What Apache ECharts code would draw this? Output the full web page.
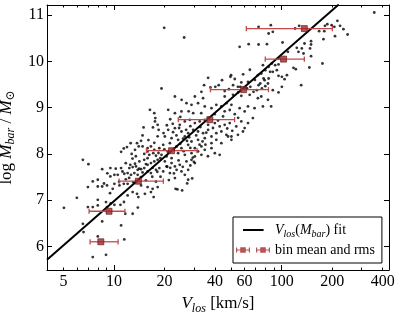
<!DOCTYPE html>
<html><head><meta charset="utf-8">
<script src="https://cdn.jsdelivr.net/npm/echarts@6/dist/echarts.min.js"></script>
<style>html,body{margin:0;padding:0;background:#fff}#c{width:399px;height:314px}</style>
</head><body><div id="c"></div>
<script>
// x axis is log10(V_los [km/s]); y axis is log10(M_bar / M_sun)
const xTickLabels = [5, 10, 20, 40, 60, 100, 200, 400];
const xMajorTicks = [10, 100];
const xMinorTicks = [5, 6, 7, 8, 9, 20, 30, 40, 50, 60, 70, 80, 90, 200, 300, 400];
const yTicks = [6, 7, 8, 9, 10, 11];

// galaxies: [log10 V_los, log10 M_bar]
const galaxies = [
[1.363,9.242],[1.403,9.170],[1.482,9.242],[1.531,9.206],[1.660,9.242],[1.710,9.278],[1.759,9.256],[1.809,9.278],[1.858,9.206],[1.878,9.242],[1.918,9.170],[1.937,9.026],[1.888,9.026],[1.838,8.990],[1.799,9.026],[1.779,8.918],[1.749,8.990],[1.700,9.062],[1.670,9.098],[1.640,9.026],[1.610,9.062],[1.581,8.990],[1.541,9.026],[1.501,9.098],[1.462,9.062],[1.432,9.098],[1.472,8.882],[1.402,8.918],[1.363,8.882],[1.323,8.954],
[1.392,8.630],[1.422,8.702],[1.452,8.738],[1.482,8.666],[1.511,8.702],[1.541,8.738],[1.561,8.630],[1.601,8.666],[1.630,8.594],[1.660,8.630],[1.690,8.666],[1.729,8.594],[1.759,8.702],[1.779,8.558],[1.799,8.666],[1.828,8.774],
[1.323,8.521],[1.363,8.557],[1.402,8.485],[1.442,8.449],[1.472,8.521],[1.501,8.485],[1.531,8.449],[1.561,8.521],[1.581,8.377],[1.610,8.449],[1.640,8.485],[1.670,8.413],[1.700,8.377],[1.739,8.413],[1.769,8.485],
[1.303,8.377],[1.343,8.341],[1.382,8.305],[1.422,8.377],[1.462,8.269],[1.501,8.305],[1.541,8.341],[1.581,8.233],[1.610,8.305],[1.640,8.233],[1.680,8.377],[1.700,8.305],
[1.293,8.197],[1.333,8.233],[1.373,8.161],[1.402,8.125],[1.442,8.197],[1.482,8.125],[1.521,8.161],[1.541,8.089],[1.581,8.125],[1.601,8.017],[1.630,7.981],
[1.283,7.981],[1.313,7.945],[1.343,7.909],[1.382,8.017],[1.422,7.981],[1.462,8.017],[1.482,7.945],[1.501,8.053],[1.521,7.981],
[1.303,7.837],[1.343,7.801],[1.363,7.729],[1.392,7.765],[1.432,7.837],[1.462,7.873],[1.482,7.801],[1.442,7.657],[1.402,7.621],[1.313,7.729],[1.293,7.621],[1.333,7.585],[1.373,7.657],[1.422,7.549],[1.442,7.441],[1.363,7.477],
[1.466,7.470],[1.327,7.434],[1.317,7.722],[1.357,7.578],[1.476,7.830],
[1.295,8.450],[1.315,8.620],[1.335,8.750],[1.352,8.470],[1.372,8.400],[1.388,8.560],[1.412,8.330],[1.430,8.520],[1.448,8.360],[1.455,8.600],[1.490,8.400],[1.515,8.580],[1.528,8.270],[1.550,8.460],[1.565,8.780],[1.590,8.560],[1.620,8.720],[1.650,8.810],[1.675,8.550],[1.705,8.500],[1.720,8.860],[1.690,8.950],[1.740,8.780],[1.300,8.100],[1.320,8.050],[1.355,8.090],[1.395,8.220],[1.415,8.060],[1.435,8.280],[1.455,8.130],[1.470,7.920],[1.510,8.200],[1.545,8.200],[1.560,7.950],[1.335,7.700],[1.385,7.860],[1.410,7.720],[1.455,7.750],[1.350,8.650],[1.395,8.800],[1.445,8.920],[1.520,8.880],[1.600,8.860],[1.660,8.920],
[1.862,10.748],[1.935,10.784],[1.922,10.604],[1.947,10.640],[1.803,10.373],[1.749,10.316],[1.862,10.366],[1.912,10.373],[1.961,9.919],[1.941,9.955],[1.922,9.883],[1.931,9.775],[1.902,9.811],[1.947,9.775],[1.922,9.631],[1.892,9.631],[1.872,9.523],[1.862,9.487],[1.882,9.415],[1.902,9.465],[1.852,9.379],[1.832,9.343],[1.813,9.451],[1.793,9.415],[1.753,9.451],[1.698,9.703],[1.694,9.667],[1.644,9.595],[1.624,9.487],[1.604,9.451],[1.575,9.436],[1.947,9.379],
[1.878,9.739],[1.858,9.703],[1.898,9.595],[1.918,9.523],[1.799,9.559],[1.759,9.545],[1.739,9.451],[1.710,9.487],[1.888,9.919],[1.779,9.429],[1.537,9.487],[1.521,9.343],[1.561,9.645],
[1.660,9.360],[1.720,9.620],[1.770,9.720],[1.810,9.820],[1.840,9.600],[1.685,9.400],[1.740,9.330],
[1.299,10.726],[1.418,10.517],[1.283,9.415],
[2.552,11.058],[2.104,10.769],[2.080,10.712],[2.223,10.654],[2.254,10.654],[2.258,10.769],[2.272,10.805],[2.298,10.784],[2.314,10.748],[2.332,10.877],[2.348,10.769],[2.368,10.697],[2.393,10.582],[2.318,10.546],[2.249,10.481],[2.005,10.409],[2.090,10.294],[2.120,10.280],[2.169,10.280],[2.175,10.366],[2.175,10.438],[2.136,10.387],[2.175,10.114],[2.243,9.955],[2.165,9.869],[2.037,10.207],[1.981,10.063],[1.981,9.934],[1.971,9.811],[2.031,9.703],[2.070,9.861],[2.084,9.833],[2.001,9.667],[2.017,9.617],[1.981,9.689],[2.001,9.451],[2.116,9.487],[1.981,9.329],[2.130,10.171],[2.100,10.207],
[1.214,8.954],[1.240,8.882],[1.246,8.774],[1.244,8.702],[1.260,8.630],[1.176,8.572],[1.232,8.572],[1.266,8.521],[1.161,8.284],[1.137,8.233],[1.099,8.233],[1.077,8.147],[1.147,8.161],[1.125,8.089],[1.058,8.118],[1.042,8.046],[1.170,8.161],[1.200,8.125],[1.220,8.161],[1.240,8.089],[1.270,8.125],[1.200,8.053],[1.234,8.017],[0.814,7.873],[0.847,7.779],[0.929,7.671],[0.978,7.693],[1.042,7.693],[1.097,7.765],[1.125,7.787],[1.151,7.837],[1.180,7.873],[1.200,7.909],[1.091,7.693],[1.111,7.715],[1.131,7.729],[1.141,7.657],[1.161,7.671],[1.180,7.693],[1.200,7.765],[1.220,7.801],[1.240,7.837],[1.260,7.873],[1.276,7.909],[1.002,7.549],[1.022,7.549],[0.978,7.513],[1.061,7.571],[1.081,7.585],[1.101,7.549],[1.121,7.585],[1.141,7.549],[1.170,7.599],[1.200,7.621],[1.220,7.585],[1.250,7.657],[1.270,7.693],[0.903,7.441],[0.873,7.405],[1.228,7.506],[1.258,7.614],[1.277,7.506],
[1.010,7.680],[1.050,7.620],[1.070,7.800],[1.090,7.480],[1.110,7.900],[1.130,7.950],[1.150,7.680],[1.160,7.500],[1.190,7.780],[1.210,7.980],[1.230,7.700],[1.250,7.960],[1.265,8.020],[1.180,8.000],[1.105,8.000],[1.070,7.450],[1.030,7.400],[1.190,7.430],[1.240,8.240],[1.260,8.380],[1.205,8.300],[1.170,8.400],[0.960,7.580],[0.940,7.360],[1.130,7.400],[1.250,7.400],
[0.701,6.835],[0.778,7.051],[0.814,6.489],[0.818,6.309],[0.844,6.850],[0.873,6.850],[0.903,7.008],[0.903,6.886],[0.929,6.540],[0.952,6.958],[0.958,6.850],[0.903,6.216],[0.952,5.819],[0.873,5.769],[0.844,7.282],[0.903,7.296],[0.929,7.296],[0.958,7.318],[0.976,7.152],[0.992,7.246],[1.002,7.354],[1.032,7.318],[1.058,7.354],[1.081,7.354],[1.002,6.900],[1.038,6.900],[1.067,6.706],[1.111,6.706],[1.042,6.453],[1.061,6.151],[1.200,7.282],[1.230,7.246],[1.260,7.282],[1.184,7.138],[1.220,7.174],[1.236,7.066],[1.111,7.174],[1.137,7.138],[1.145,7.066],[1.161,7.318],[1.081,7.102],[1.115,7.385],[1.142,6.840],[0.980,6.930],[1.059,6.960],
[1.367,7.246],[1.378,7.232],[1.406,7.210],[1.436,7.362]
];

// bin means and rms (log10 V_los)
const binLogV   = [0.921, 0.970, 1.145, 1.343, 1.571, 1.773, 2.011, 2.135];
const binLogM   = [6.10, 6.76, 7.41, 8.07, 8.74, 9.39, 10.05, 10.71];
const binLogVLo = [0.857, 0.851, 1.030, 1.193, 1.383, 1.575, 1.902, 1.789];
const binLogVHi = [1.024, 1.065, 1.294, 1.495, 1.719, 1.921, 2.135, 2.302];

// fit line end points
const fitLogV = [0.600, 2.340];
const fitLogM = [5.71, 11.23];

const FONT = "'Liberation Serif','DejaVu Serif','Times New Roman',serif";
const XMIN = 0.6, XMAX = 2.64, YMIN = 5.49, YMAX = 11.22;
const lg = v => Math.log10(v);

const chart = echarts.init(document.getElementById('c'), null, {renderer: 'canvas'});

const richSub = {
  i: {fontFamily: FONT, fontStyle: 'italic', fontSize: 17, lineHeight: 22, color: '#000'},
  s: {fontFamily: FONT, fontStyle: 'italic', fontSize: 12, lineHeight: 12, verticalAlign: 'bottom', color: '#000'},
  u: {fontFamily: FONT, fontSize: 12, lineHeight: 12, verticalAlign: 'bottom', color: '#000'},
  n: {fontFamily: FONT, fontSize: 17, lineHeight: 22, color: '#000'}
};
const legRich = {
  i: {fontFamily: FONT, fontStyle: 'italic', fontSize: 14, lineHeight: 18, color: '#000'},
  s: {fontFamily: FONT, fontStyle: 'italic', fontSize: 10, lineHeight: 10, verticalAlign: 'bottom', color: '#000'},
  n: {fontFamily: FONT, fontSize: 14, lineHeight: 18, color: '#000'}
};

const baseX = (pos, ticks, len, showLine, labels) => ({
  type: 'value', position: pos, min: XMIN, max: XMAX, gridIndex: 0,
  axisLine: {show: showLine, onZero: false, lineStyle: {color: '#000', width: 1}},
  axisTick: {show: true, inside: true, length: len, customValues: ticks.map(lg), lineStyle: {color: '#000', width: 1}},
  axisLabel: labels ? {show: true, customValues: xTickLabels.map(lg), margin: 4,
    formatter: v => String(Math.round(Math.pow(10, v))), fontFamily: FONT, fontSize: 16, color: '#000'} : {show: false},
  splitLine: {show: false}
});
const baseY = (pos, labels) => ({
  type: 'value', position: pos, min: YMIN, max: YMAX, gridIndex: 0,
  axisLine: {show: true, onZero: false, lineStyle: {color: '#000', width: 1}},
  axisTick: {show: true, inside: true, length: 5, customValues: yTicks, lineStyle: {color: '#000', width: 1}},
  axisLabel: labels ? {show: true, customValues: yTicks, margin: 3, formatter: v => String(Math.round(v)),
    fontFamily: FONT, fontSize: 16, color: '#000'} : {show: false},
  splitLine: {show: false}
});

const x0 = baseX('bottom', xMinorTicks, 2.5, true, true);
x0.name = '{i|V}{s|los}{n| [km/s]}';
x0.nameLocation = 'middle';
x0.nameGap = 16;
x0.nameTextStyle = {fontFamily: FONT, fontSize: 17, color: '#000', rich: richSub};
const y0 = baseY('left', true);
y0.name = '{n|log }{i|M}{s|bar}{n| / }{i|M}{u|⊙}';
y0.nameLocation = 'middle';
y0.nameRotate = 90;
y0.nameGap = 21;
y0.nameTextStyle = {fontFamily: FONT, fontSize: 17, color: '#000', rich: richSub};

const binIcon = 'path://M0,0h0.01v0.01h-0.01z M33.99,9.99h0.01v0.01h-0.01z ' +
  'M0,4.4h14v1.2h-14z M0,2.5h1.2v5h-1.2z M12.8,2.5h1.2v5h-1.2z M4.2,2.2h5.6v5.6h-5.6z ' +
  'M20,4.4h14v1.2h-14z M20,2.5h1.2v5h-1.2z M32.8,2.5h1.2v5h-1.2z M24.2,2.2h5.6v5.6h-5.6z';
const fitIcon = 'path://M0,0h0.01v0.01h-0.01z M33.99,9.99h0.01v0.01h-0.01z M7,4h20.6v2h-20.6z';

const errData = binLogV.map((v, i) => [v, binLogM[i], binLogVLo[i], binLogVHi[i]]);

chart.setOption({
  animation: false,
  backgroundColor: '#fff',
  grid: {left: 47, right: 10, top: 5, bottom: 44, containLabel: false, outerBoundsMode: 'none'},
  xAxis: [
    x0,
    baseX('bottom', xMajorTicks, 5, false, false),
    baseX('top', xMinorTicks, 2.5, true, false),
    baseX('top', xMajorTicks, 5, false, false)
  ],
  yAxis: [y0, baseY('right', false)],
  legend: {
    show: true, orient: 'vertical', left: 233, top: 217,
    padding: [4, 7, 4, 3], itemGap: 2, itemWidth: 34, itemHeight: 10,
    backgroundColor: '#fff', borderColor: '#000', borderWidth: 1, borderRadius: 0,
    selectedMode: false,
    textStyle: {fontFamily: FONT, fontSize: 14, lineHeight: 18, color: '#000', rich: legRich},
    formatter: name => name === 'fit' ? '{i|V}{s|los}{n|(}{i|M}{s|bar}{n|) fit}' : 'bin mean and rms',
    data: [
      {name: 'fit', icon: fitIcon, itemStyle: {color: '#000', borderWidth: 0}},
      {name: 'bin', icon: binIcon, itemStyle: {color: '#a3282a', borderWidth: 0}}
    ]
  },
  series: [
    {
      name: 'galaxies', type: 'scatter', xAxisIndex: 0, yAxisIndex: 0,
      data: galaxies, symbol: 'circle', symbolSize: 2.8,
      itemStyle: {color: '#000'}, z: 2, silent: true
    },
    {
      name: 'fit', type: 'line', xAxisIndex: 0, yAxisIndex: 0,
      data: fitLogV.map((v, i) => [v, fitLogM[i]]),
      showSymbol: false, symbol: 'none', clip: true,
      lineStyle: {color: '#000', width: 2}, itemStyle: {color: '#000'}, z: 3, silent: true
    },
    {
      name: 'binErr', type: 'custom', xAxisIndex: 0, yAxisIndex: 0,
      data: errData, encode: {x: [0, 2, 3], y: 1}, z: 4, silent: true,
      renderItem: (params, api) => {
        const y = api.value(1);
        const p1 = api.coord([api.value(2), y]);
        const p2 = api.coord([api.value(3), y]);
        const st = {stroke: '#c24a4a', lineWidth: 1.3};
        const c = 2.6;
        return {type: 'group', children: [
          {type: 'line', shape: {x1: p1[0], y1: p1[1], x2: p2[0], y2: p2[1]}, style: st},
          {type: 'line', shape: {x1: p1[0], y1: p1[1] - c, x2: p1[0], y2: p1[1] + c}, style: st},
          {type: 'line', shape: {x1: p2[0], y1: p2[1] - c, x2: p2[0], y2: p2[1] + c}, style: st}
        ]};
      }
    },
    {
      name: 'bin', type: 'scatter', xAxisIndex: 0, yAxisIndex: 0,
      data: binLogV.map((v, i) => [v, binLogM[i]]),
      symbol: 'rect', symbolSize: 6,
      itemStyle: {color: '#a3282a', borderColor: '#5e1414', borderWidth: 0.8}, z: 5, silent: true
    }
  ]
});
</script>
</body></html>
